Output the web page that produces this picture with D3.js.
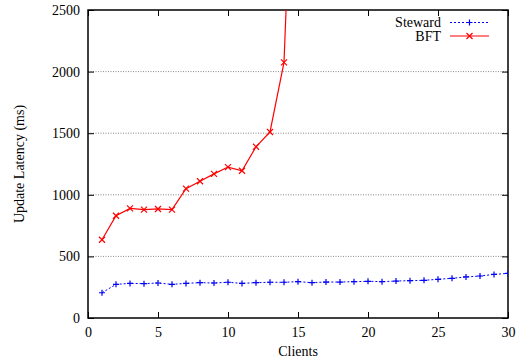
<!DOCTYPE html>
<html><head><meta charset="utf-8">
<script src="https://cdn.jsdelivr.net/npm/d3@7"></script>
<style>body{margin:0;background:#fff}</style>
</head><body><svg id="c" width="524" height="364"></svg>
<script>
const clientsSteward = [1,2,3,4,5,6,7,8,9,10,11,12,13,14,15,16,17,18,19,20,21,22,23,24,25,26,27,28,29,30];
const steward = [205,273,281,279,284,273,281,287,284,290,281,287,290,290,295,287,292,292,295,298,295,300,303,306,314,322,333,341,354,362];
const clientsBFT = [1,2,3,4,5,6,7,8,9,10,11,12,13,14,15];
const bft = [635,830,890,880,885,880,1050,1110,1170,1225,1195,1390,1510,2075,5000];
const xTicks = [0,5,10,15,20,25,30];
const yTicks = [0,500,1000,1500,2000,2500];
const seriesNames = ["Steward","BFT"];

const FONT = '"Liberation Serif", "Times New Roman", Times, serif';
const FS = 14;
const svg = d3.select("#c");
const L=88,R=508,T=10,B=318;
const x = d3.scaleLinear().domain([0,30]).range([L,R]);
const y = d3.scaleLinear().domain([0,2500]).range([B,T]);

// grid
svg.append("g").selectAll("line").data(yTicks.filter(d=>d>0&&d<2500)).join("line")
  .attr("x1",L).attr("x2",R).attr("y1",d=>y(d)).attr("y2",d=>y(d))
  .attr("stroke","#888").attr("stroke-width",1).attr("stroke-dasharray","1,1.5");

// axes
svg.append("g").attr("transform",`translate(0,${B})`).call(d3.axisBottom(x).tickValues(xTicks).tickSize(-6).tickPadding(9).tickFormat(d3.format("d")));
svg.append("g").attr("transform",`translate(${L},0)`).call(d3.axisLeft(y).tickValues(yTicks).tickSize(-6).tickPadding(8).tickFormat(d3.format("d")));
const tAx = svg.append("g").attr("transform",`translate(0,${T})`).call(d3.axisTop(x).tickValues(xTicks).tickSize(-6));
const rAx = svg.append("g").attr("transform",`translate(${R},0)`).call(d3.axisRight(y).tickValues(yTicks).tickSize(-6));
tAx.selectAll("text").remove();
rAx.selectAll("text").remove();
svg.selectAll(".domain").remove();
svg.selectAll("g").attr("font-family",FONT).attr("font-size",FS);
svg.selectAll(".tick line").attr("stroke","#000");
svg.selectAll(".tick text").attr("fill","#000");
svg.append("rect").attr("x",L).attr("y",T).attr("width",R-L).attr("height",B-T).attr("fill","none").attr("stroke","#000").attr("stroke-width",1.5);

// clip
svg.append("clipPath").attr("id","clip").append("rect").attr("x",L).attr("y",T).attr("width",R-L).attr("height",B-T);

const line = d3.line().x(d=>x(d[0])).y(d=>y(d[1]));
const sData = clientsSteward.map((c,i)=>[c,steward[i]]);
const bData = clientsBFT.map((c,i)=>[c,bft[i]]);
const g = svg.append("g").attr("clip-path","url(#clip)");
g.append("path").datum(sData).attr("d",line).attr("fill","none").attr("stroke","#0000ff").attr("stroke-width",1).attr("stroke-dasharray","2,2");
g.append("path").datum(bData).attr("d",line).attr("fill","none").attr("stroke","#ff0000").attr("stroke-width",1.2);

function plus(sel,cx,cy,col){sel.append("path").attr("d",`M${cx-3},${cy}H${cx+3}M${cx},${cy-3}V${cy+3}`).attr("stroke",col).attr("stroke-width",1.2);}
function cross(sel,cx,cy,col){sel.append("path").attr("d",`M${cx-3},${cy-3}L${cx+3},${cy+3}M${cx-3},${cy+3}L${cx+3},${cy-3}`).attr("stroke",col).attr("stroke-width",1.2);}
sData.forEach(d=>plus(g,x(d[0]),y(d[1]),"#0000ff"));
bData.forEach(d=>cross(g,x(d[0]),y(d[1]),"#ff0000"));

// legend (single text block, two lines)
const lg = svg.append("g").attr("font-family",FONT).attr("font-size",FS);
const lt = lg.append("text").attr("text-anchor","end");
lt.append("tspan").attr("x",441).attr("y",27).text(seriesNames[0]);
lt.append("tspan").attr("x",441).attr("y",40.5).text(seriesNames[1]);
lg.append("line").attr("x1",450).attr("x2",489).attr("y1",22.5).attr("y2",22.5).attr("stroke","#0000ff").attr("stroke-dasharray","2,2");
plus(lg,469.5,22.5,"#0000ff");
lg.append("line").attr("x1",450).attr("x2",489).attr("y1",36).attr("y2",36).attr("stroke","#ff0000").attr("stroke-width",1.2);
cross(lg,469.5,36,"#ff0000");

// axis titles
const tg = svg.append("g").attr("font-family",FONT).attr("font-size",FS);
tg.append("text").attr("x",(L+R)/2).attr("y",356).attr("text-anchor","middle").text("Clients");
tg.append("text").attr("transform",`translate(24,${(T+B)/2}) rotate(-90)`).attr("text-anchor","middle").text("Update Latency (ms)");
</script></body></html>
